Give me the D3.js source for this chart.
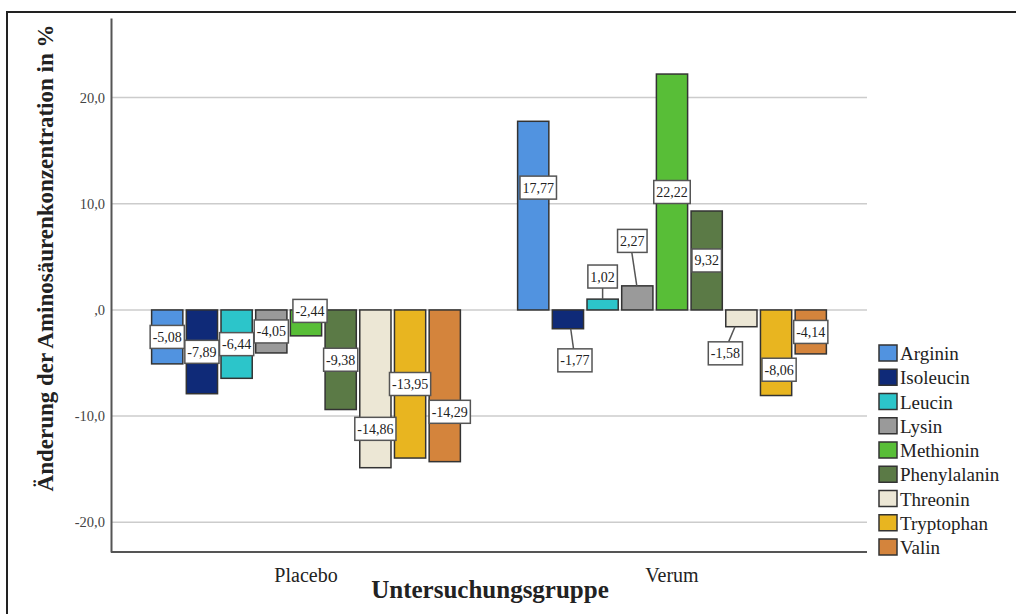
<!DOCTYPE html>
<html>
<head>
<meta charset="utf-8">
<script src="https://cdn.jsdelivr.net/npm/d3@7"></script>
<style>
  body { margin: 0; background: #fff; }
  text { font-family: "Liberation Serif", "Times New Roman", serif; }
</style>
</head>
<body>
<div id="chart"></div>
<script>
// Data
var groups = ['Placebo', 'Verum'];
var aminos = ['Arginin', 'Isoleucin', 'Leucin', 'Lysin', 'Methionin', 'Phenylalanin', 'Threonin', 'Tryptophan', 'Valin'];
var placebo = [-5.08, -7.89, -6.44, -4.05, -2.44, -9.38, -14.86, -13.95, -14.29];
var verum = [17.77, -1.77, 1.02, 2.27, 22.22, 9.32, -1.58, -8.06, -4.14];
var yTicks = [-20, -10, 0, 10, 20];

var colors = ['#5193e0', '#0f2a78', '#2cc5ca', '#9a9a9a', '#58be37', '#5b7a46', '#ece7d5', '#e8b520', '#d4843c'];

// label layout (pixel nudges from bar middle, SPSS style staggering)
var nudge = {
  'Placebo': [[0,0],[0,0],[0,0],[0,0],[4,-12],[0,0],[0,40],[0,0],[5,26]],
  'Verum':   [[5,-28],[7,41],[0,-28],[-5,-57],[0,0],[0,0],[-16,35],[3,17],[0,0]]
};

var width = 1016, height = 614;
var svg = d3.select('#chart').append('svg')
    .attr('width', width)
    .attr('height', height);

// outer frame
svg.append('path')
    .attr('d', 'M7,614 L7,12 L1016,12')
    .attr('fill', 'none')
    .attr('stroke', '#222')
    .attr('stroke-width', 2);

var plotLeft = 111, plotRight = 867, plotTop = 18, plotBottom = 552;

var y = d3.scaleLinear().domain([-22.8, 27.5]).range([plotBottom, plotTop]);
var x0 = d3.scaleBand().domain(groups).range([123, 855]);
var x1 = d3.scaleBand().domain(aminos).range([0, x0.bandwidth()])
    .paddingInner(0.1).paddingOuter(0.825);

var comma = function(s) { return s.replace('.', ',').replace('−', '-'); };

// gridlines
svg.append('g').selectAll('line')
    .data(yTicks)
    .enter().append('line')
    .attr('x1', plotLeft).attr('x2', plotRight)
    .attr('y1', function(d) { return y(d); })
    .attr('y2', function(d) { return y(d); })
    .attr('stroke', '#cccccc')
    .attr('stroke-width', 1.5);

// y axis
var yAxis = d3.axisLeft(y).tickValues(yTicks).tickSize(0).tickPadding(6)
    .tickFormat(function(d) { return d === 0 ? ',0' : comma(d3.format('.1f')(d)); });
var gy = svg.append('g').attr('transform', 'translate(' + plotLeft + ',0)').call(yAxis);
gy.select('.domain').attr('stroke', '#555').attr('stroke-width', 2);
gy.selectAll('text')
    .style('font-family', '"Liberation Serif", serif')
    .style('font-size', '14.5px')
    .attr('fill', '#444');

// x axis
var xAxis = d3.axisBottom(x0).tickSize(0).tickPadding(16);
var gx = svg.append('g').attr('transform', 'translate(0,' + plotBottom + ')').call(xAxis);
gx.select('.domain').attr('d', 'M' + plotLeft + ',0H' + plotRight).attr('stroke', '#555').attr('stroke-width', 2);
gx.selectAll('text')
    .style('font-family', '"Liberation Serif", serif')
    .style('font-size', '20px')
    .attr('fill', '#222');

// axis titles
svg.append('text')
    .attr('transform', 'translate(53,258) rotate(-90)')
    .attr('text-anchor', 'middle')
    .style('font-size', '23px')
    .style('font-weight', 'bold')
    .attr('fill', '#222')
    .text('Änderung der Aminosäurenkonzentration in %');

svg.append('text')
    .attr('x', 490)
    .attr('y', 598)
    .attr('text-anchor', 'middle')
    .style('font-size', '25px')
    .style('font-weight', 'bold')
    .attr('fill', '#222')
    .text('Untersuchungsgruppe');

// bars
var rows = [];
groups.forEach(function(g, gi) {
  var vals = gi === 0 ? placebo : verum;
  aminos.forEach(function(a, i) {
    rows.push({group: g, amino: a, i: i, value: vals[i]});
  });
});

var bars = svg.append('g');
bars.selectAll('rect')
    .data(rows)
    .enter().append('rect')
    .attr('x', function(d) { return x0(d.group) + x1(d.amino); })
    .attr('y', function(d) { return y(Math.max(0, d.value)); })
    .attr('width', x1.bandwidth())
    .attr('height', function(d) { return Math.abs(y(d.value) - y(0)); })
    .attr('fill', function(d) { return colors[d.i]; })
    .attr('stroke', '#333')
    .attr('stroke-width', 1.5);

// value labels
var fmt = function(v) { return comma(d3.format('.2f')(v)); };
var boxH = 23;
var labels = svg.append('g');
rows.forEach(function(d) {
  var n = nudge[d.group][d.i];
  var bx = x0(d.group) + x1(d.amino) + x1.bandwidth() / 2;
  var by = (y(0) + y(d.value)) / 2;
  var cx = bx + n[0], cy = by + n[1];
  var barTop = Math.min(y(0), y(d.value)), barBot = Math.max(y(0), y(d.value));

  var t = labels.append('text')
      .attr('x', cx).attr('y', cy + 5)
      .attr('text-anchor', 'middle')
      .style('font-size', '14px')
      .attr('fill', '#222')
      .text(fmt(d.value));
  var w = t.node().getComputedTextLength() + 5;

  // leader line if box sits outside the bar
  if (cy - boxH / 2 > barBot) {
    labels.insert('line', 'text')
        .attr('x1', bx + n[0] * 0.4).attr('y1', barBot)
        .attr('x2', cx - n[0] * 0.2).attr('y2', cy - boxH / 2)
        .attr('stroke', '#555').attr('stroke-width', 1.5);
  } else if (cy + boxH / 2 < barTop) {
    labels.insert('line', 'text')
        .attr('x1', bx + n[0] * 0.1).attr('y1', barTop)
        .attr('x2', cx + n[0] * 0.1).attr('y2', cy + boxH / 2)
        .attr('stroke', '#555').attr('stroke-width', 1.5);
  }

  labels.insert('rect', function() { return t.node(); })
      .attr('x', cx - w / 2).attr('y', cy - boxH / 2)
      .attr('width', w).attr('height', boxH)
      .attr('fill', '#fff')
      .attr('stroke', '#555')
      .attr('stroke-width', 1.5);
});

// legend
var legend = svg.append('g').attr('transform', 'translate(879,353)');
var li = legend.selectAll('g')
    .data(aminos)
    .enter().append('g')
    .attr('transform', function(d, i) { return 'translate(0,' + (i * 24.25) + ')'; });
li.append('rect')
    .attr('x', 0).attr('y', -8)
    .attr('width', 18).attr('height', 16)
    .attr('fill', function(d, i) { return colors[i]; })
    .attr('stroke', '#333')
    .attr('stroke-width', 1.5);
li.append('text')
    .attr('x', 21).attr('y', 7)
    .style('font-size', '19px')
    .attr('fill', '#222')
    .text(function(d) { return d; });
</script>
</body>
</html>
